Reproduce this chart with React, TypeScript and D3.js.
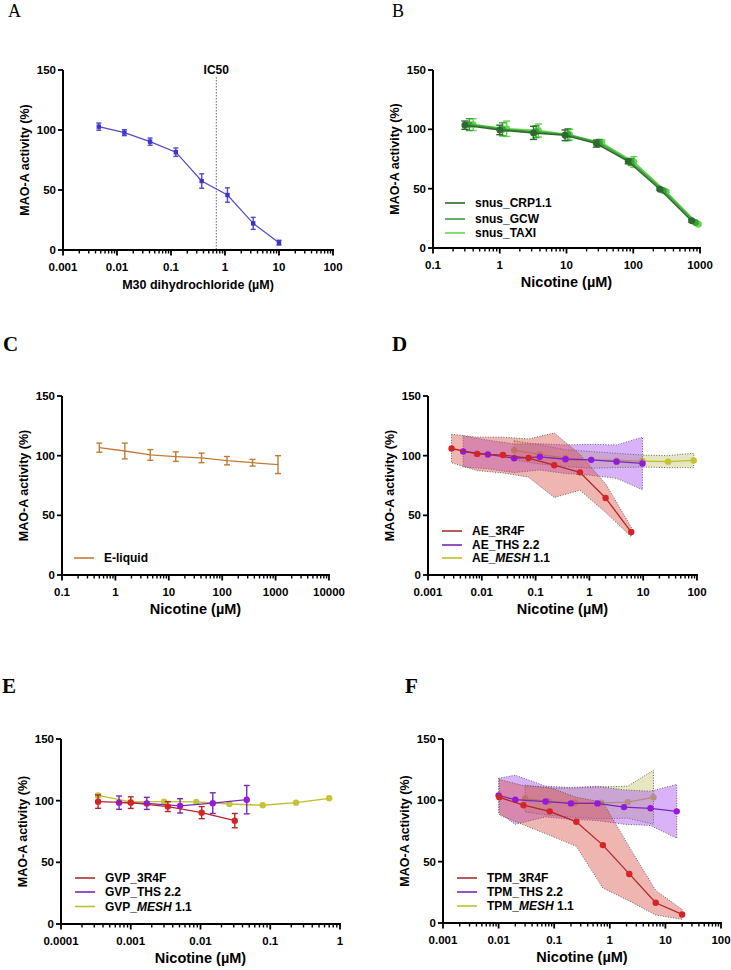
import React from "react";
import * as d3 from "d3";

const SANS = "'Liberation Sans', Arial, sans-serif";
const SERIF = "'Liberation Serif', 'Times New Roman', serif";

// ---------- Panel A ----------
const aDose = [0.0046, 0.0137, 0.041, 0.123, 0.37, 1.11, 3.33, 10];
const aMean = [102.8, 97.8, 90.3, 81.5, 57.5, 45.8, 22.2, 6.1];
const aSd = [3, 2.5, 3, 3.5, 6, 6, 5, 2];
const aIC50 = 0.69;
const aXTicks = ["0.001", "0.01", "0.1", "1", "10", "100"];

// ---------- Panel B ----------
const bDoseCRP = [0.3, 1.0, 3.2, 9.5, 28, 84, 250, 750];
const bMeanCRP = [103.5, 99.5, 97, 95, 88, 73, 49.5, 23];
const bSdCRP = [3.5, 4, 5.5, 4.5, 3, 2, 1, 1];
const bDoseGCW = [0.35, 1.1, 3.5, 10.5, 31, 93, 280, 850];
const bMeanGCW = [104, 100, 98, 95.5, 88.5, 72.5, 48.5, 21.5];
const bSdGCW = [5, 5.5, 5, 5, 3, 3, 1, 1];
const bDoseTAXI = [0.4, 1.27, 3.8, 11.2, 34, 102, 310, 940];
const bMeanTAXI = [104, 100.5, 99, 95.5, 88.5, 72.5, 47.5, 20];
const bSdTAXI = [5, 6.5, 5.5, 4.5, 2.5, 4.5, 1, 1];
const bXTicks = ["0.1", "1", "10", "100", "1000"];

// ---------- Panel C ----------
const cDose = [0.5, 1.5, 4.5, 13.5, 41, 123, 370, 1110];
const cMean = [106.7, 103.9, 100.6, 99.2, 98.1, 95.8, 94.1, 92.5];
const cSd = [3.8, 6.6, 4.5, 4, 4, 3.5, 2.8, 7.5];
const cXTicks = ["0.1", "1", "10", "100", "1000", "10000"];

// ---------- Panel D ----------
const dDose3R4F = [0.00274, 0.0082, 0.0247, 0.074, 0.222, 0.667, 2, 6];
const dMean3R4F = [106, 101.5, 100.5, 98, 92, 86, 64.5, 36];
const dSd3R4F = [12, 14, 15, 16, 27, 15, 12, 4];
const dDoseTHS = [0.0045, 0.013, 0.04, 0.12, 0.36, 1.08, 3.2, 9.7];
const dMeanTHS = [103.5, 101, 97.8, 99, 97, 96.5, 95, 93.5];
const dSdTHS = [13, 12, 12, 11, 12, 13, 14, 22];
const dDoseMESH = [0.04, 0.12, 0.36, 1.08, 3.2, 9.7, 29, 87];
const dMeanMESH = [104.5, 101, 98, 96.5, 96, 95.5, 95, 96];
const dSdMESH = [8, 8, 7, 7, 6, 5, 5, 6];
const dXTicks = ["0.001", "0.01", "0.1", "1", "10", "100"];

// ---------- Panel E ----------
const eDose3R4F = [0.00034, 0.001, 0.0034, 0.0104, 0.031];
const eMean3R4F = [99.2, 98.4, 95.2, 90.3, 83.8];
const eSd3R4F = [5.4, 4.7, 4, 4.9, 5.8];
const eDoseTHS = [0.00068, 0.0017, 0.0051, 0.015, 0.046];
const eMeanTHS = [98.4, 97.8, 95.8, 98, 100.8];
const eSdTHS = [5.4, 4.9, 5.8, 8.4, 11.5];
const eDoseMESH = [0.00034, 0.001, 0.003, 0.0087, 0.026, 0.078, 0.234, 0.7];
const eMeanMESH = [104.2, 99, 99.2, 99, 97.3, 96.3, 98.4, 101.9];
const eSdMESH = [1.5, 0, 0, 0, 0, 0, 0, 0];
const eXTicks = ["0.0001", "0.001", "0.01", "0.1", "1"];

// ---------- Panel F ----------
const fDose3R4F = [0.0103, 0.028, 0.083, 0.25, 0.75, 2.24, 6.7, 20];
const fMean3R4F = [102.5, 96, 91, 82.5, 63.5, 40, 16.5, 7];
const fSd3R4F = [14.5, 16, 19.5, 20, 35, 22, 10, 4];
const fDoseTHS = [0.01, 0.02, 0.07, 0.2, 0.6, 1.8, 5.4, 16];
const fMeanTHS = [104, 100.5, 99, 97.5, 97.5, 94.5, 93.5, 91];
const fSdTHS = [14, 20, 12.5, 13, 14, 14, 14, 22];
const fDoseMESH = [0.03, 0.08, 0.24, 0.7, 2.1, 6.1];
const fMeanMESH = [101.5, 99, 98, 98, 98.5, 102.5];
const fSdMESH = [11, 11, 12, 13, 13, 22];
const fXTicks = ["0.001", "0.01", "0.1", "1", "10", "100"];

const yTicks = [0, 50, 100, 150];

const RED_L = "#b3262a", RED_P = "#d42424", RED_F = "#d6453c";
const PUR_L = "#7a28b8", PUR_P = "#9418e0", PUR_F = "#a040f0";
const OLV_L = "#bcbf2c", OLV_P = "#c3c436", OLV_F = "#b8b84a";

type S = {
  dose: number[]; mean: number[]; sd: number[];
  line: string; point: string; marker: "circle" | "square" | "none";
  r?: number; cap?: number; errors?: boolean; band?: string; bandOp?: number; lw?: number;
};
type Leg = { pre: string; ital?: string; post?: string; color: string };

function mk(dose: number[], mean: number[], sd: number[]) {
  return dose.map((d, i) => ({ d, m: mean[i], s: sd[i] }));
}

function Panel(p: any) {
  const x = d3.scaleLog().domain(p.domain).range([p.x0, p.x1]);
  const y = d3.scaleLinear().domain([0, 150]).range([p.yb, p.yt]);
  const lo = Math.round(Math.log10(p.domain[0]));
  const hi = Math.round(Math.log10(p.domain[1]));
  const minor: number[] = [];
  for (let k = lo; k < hi; k++) for (let m = 2; m <= 9; m++) minor.push(m * Math.pow(10, k));
  const lineGen = d3.line<any>().x((q) => x(q.d)).y((q) => y(q.m));
  const areaGen = d3.area<any>().x((q) => x(q.d)).y0((q) => y(Math.max(0, q.m - q.s))).y1((q) => y(q.m + q.s));
  const series: S[] = p.series;

  const drawBand = (s: S, i: number) =>
    s.band ? (
      <path key={"b" + i} d={areaGen(mk(s.dose, s.mean, s.sd)) || ""} fill={s.band} fillOpacity={s.bandOp ?? 0.4}
        stroke="#555" strokeWidth={0.9} strokeDasharray="1,1.6" />
    ) : null;
  const drawMarks = (s: S, i: number) => {
    const pts = mk(s.dose, s.mean, s.sd);
    const cap = s.cap ?? 3;
    return (
      <g key={"m" + i}>
        <path d={lineGen(pts) || ""} fill="none" stroke={s.line} strokeWidth={s.lw ?? 1.3} />
        {s.errors && pts.map((q, j) => q.s > 0 ? (
          <g key={j} stroke={s.line} strokeWidth={1.4}>
            <line x1={x(q.d)} x2={x(q.d)} y1={y(q.m - q.s)} y2={y(q.m + q.s)} />
            <line x1={x(q.d) - cap} x2={x(q.d) + cap} y1={y(q.m - q.s)} y2={y(q.m - q.s)} />
            <line x1={x(q.d) - cap} x2={x(q.d) + cap} y1={y(q.m + q.s)} y2={y(q.m + q.s)} />
          </g>) : null)}
        {pts.map((q, j) => s.marker === "circle" ? (
          <circle key={"c" + j} cx={x(q.d)} cy={y(q.m)} r={s.r ?? 3.2} fill={s.point} />
        ) : s.marker === "square" ? (
          <rect key={"c" + j} x={x(q.d) - 2.2} y={y(q.m) - 2.2} width={4.4} height={4.4} fill={s.point} />
        ) : null)}
      </g>
    );
  };

  const fullFirst = p.fullFirst;
  return (
    <g>
      <text x={p.tx} y={p.ty} fontFamily={SERIF} fontSize={p.tBold ? 21 : 18} fontWeight={p.tBold ? "bold" : "normal"}>{p.title}</text>
      {fullFirst ? (
        <g>
          {drawBand(series[0], 0)}
          {drawMarks(series[0], 0)}
          {series.slice(1).map((s, i) => drawBand(s, i + 1))}
          {series.slice(1).map((s, i) => drawMarks(s, i + 1))}
        </g>
      ) : (
        <g>
          {series.map(drawBand)}
          {series.map(drawMarks)}
        </g>
      )}
      {p.ic50 !== undefined && (
        <g>
          <line x1={x(p.ic50)} x2={x(p.ic50)} y1={p.yt + 7} y2={p.yb} stroke="#555" strokeWidth={0.9} strokeDasharray="1.5,1.5" />
          <text x={x(p.ic50)} y={p.yt + 4} textAnchor="middle" fontFamily={SANS} fontSize={12} fontWeight="bold">IC50</text>
        </g>
      )}
      {/* y axis */}
      <line x1={p.x0} x2={p.x0} y1={p.yb + 1} y2={p.yt} stroke="#000" strokeWidth={2} />
      {yTicks.map((t) => (
        <g key={t}>
          <line x1={p.x0 - 5} x2={p.x0} y1={y(t)} y2={y(t)} stroke="#000" strokeWidth={1.8} />
          <text x={p.x0 - 7} y={y(t) + 4} textAnchor="end" fontFamily={SANS} fontSize={11.5} fontWeight="bold">{t}</text>
        </g>
      ))}
      {/* x axis */}
      <line x1={p.x0 - 1} x2={p.x1 + 1} y1={p.yb} y2={p.yb} stroke="#000" strokeWidth={2} />
      {minor.map((t, i) => (
        <line key={"mn" + i} x1={x(t)} x2={x(t)} y1={p.yb} y2={p.yb + 3.5} stroke="#000" strokeWidth={1.4} />
      ))}
      {p.xTicks.map((t: string) => (
        <g key={t}>
          <line x1={x(+t)} x2={x(+t)} y1={p.yb} y2={p.yb + 5.5} stroke="#000" strokeWidth={1.8} />
          <text x={x(+t)} y={p.yb + 21} textAnchor="middle" fontFamily={SANS} fontSize={11.5} fontWeight="bold">{t}</text>
        </g>
      ))}
      <text transform={`translate(${p.x0 - 38},${(p.yt + p.yb) / 2}) rotate(-90)`} textAnchor="middle" dominantBaseline="central"
        fontFamily={SANS} fontSize={12.5} fontWeight="bold">MAO-A activity (%)</text>
      <text x={(p.x0 + p.x1) / 2} y={p.yb + 39} textAnchor="middle" fontFamily={SANS} fontSize={p.xlSize} fontWeight="bold">{p.xLabel}</text>
      {p.legend && p.legend.map((l: Leg, i: number) => (
        <g key={"lg" + i}>
          <line x1={p.lx} x2={p.lx + 20} y1={p.ly[i]} y2={p.ly[i]} stroke={l.color} strokeWidth={1.6} />
          <text x={p.lx + 30} y={p.ly[i] + 4} fontFamily={SANS} fontSize={12} fontWeight="bold">
            {l.pre}{l.ital && <tspan fontStyle="italic">{l.ital}</tspan>}{l.post}
          </text>
        </g>
      ))}
    </g>
  );
}

export default function App() {
  const panels = [
    {
      title: "A", tx: 8, ty: 17, tBold: false, domain: [0.001, 100], x0: 63, x1: 333, yb: 250, yt: 70,
      xTicks: aXTicks, xLabel: "M30 dihydrochloride (\u00b5M)", xlSize: 12.5, ic50: aIC50,
      series: [{ dose: aDose, mean: aMean, sd: aSd, line: "#5148cf", point: "#3d35c8", marker: "square", errors: true, cap: 2.5, lw: 1.2 }],
    },
    {
      title: "B", tx: 392, ty: 17, tBold: false, domain: [0.1, 1000], x0: 433, x1: 700, yb: 248, yt: 70,
      xTicks: bXTicks, xLabel: "Nicotine (\u00b5M)", xlSize: 14.5,
      series: [
        { dose: bDoseTAXI, mean: bMeanTAXI, sd: bSdTAXI, line: "#5fd84a", point: "#5fd84a", marker: "circle", errors: true, cap: 3.5, r: 3.4, lw: 1.6 },
        { dose: bDoseGCW, mean: bMeanGCW, sd: bSdGCW, line: "#3e9e3e", point: "#3e9e3e", marker: "circle", errors: true, cap: 3.5, r: 3.4, lw: 1.6 },
        { dose: bDoseCRP, mean: bMeanCRP, sd: bSdCRP, line: "#2d6a2d", point: "#2d6a2d", marker: "circle", errors: true, cap: 3.5, r: 3.4, lw: 1.6 },
      ],
      legend: [
        { pre: "snus_CRP1.1", color: "#2d6a2d" },
        { pre: "snus_GCW", color: "#3e9e3e" },
        { pre: "snus_TAXI", color: "#5fd84a" },
      ],
      lx: 445, ly: [203, 219, 233],
    },
    {
      title: "C", tx: 3, ty: 351, tBold: true, domain: [0.1, 10000], x0: 62, x1: 329, yb: 575, yt: 396,
      xTicks: cXTicks, xLabel: "Nicotine (\u00b5M)", xlSize: 14.5,
      series: [{ dose: cDose, mean: cMean, sd: cSd, line: "#c27b35", point: "#c27b35", marker: "none", errors: true, cap: 3, lw: 1.3 }],
      legend: [{ pre: "E-liquid", color: "#c27b35" }], lx: 74, ly: [558],
    },
    {
      title: "D", tx: 392, ty: 351, tBold: true, domain: [0.001, 100], x0: 428, x1: 697, yb: 575, yt: 396,
      xTicks: dXTicks, xLabel: "Nicotine (\u00b5M)", xlSize: 14.5, fullFirst: true,
      series: [
        { dose: dDoseMESH, mean: dMeanMESH, sd: dSdMESH, line: OLV_L, point: OLV_P, marker: "circle", band: OLV_F, bandOp: 0.35 },
        { dose: dDoseTHS, mean: dMeanTHS, sd: dSdTHS, line: PUR_L, point: PUR_P, marker: "circle", band: PUR_F, bandOp: 0.4 },
        { dose: dDose3R4F, mean: dMean3R4F, sd: dSd3R4F, line: RED_L, point: RED_P, marker: "circle", band: RED_F, bandOp: 0.4 },
      ],
      legend: [
        { pre: "AE_3R4F", color: "#a83232" },
        { pre: "AE_THS 2.2", color: PUR_L },
        { pre: "AE_", ital: "MESH", post: " 1.1", color: OLV_L },
      ],
      lx: 442, ly: [531, 545, 558],
    },
    {
      title: "E", tx: 2, ty: 693, tBold: true, domain: [0.0001, 1], x0: 61, x1: 340, yb: 924, yt: 739,
      xTicks: eXTicks, xLabel: "Nicotine (\u00b5M)", xlSize: 14.5,
      series: [
        { dose: eDoseMESH, mean: eMeanMESH, sd: eSdMESH, line: OLV_L, point: OLV_P, marker: "circle", errors: true, cap: 3 },
        { dose: eDoseTHS, mean: eMeanTHS, sd: eSdTHS, line: PUR_L, point: PUR_P, marker: "circle", errors: true, cap: 3 },
        { dose: eDose3R4F, mean: eMean3R4F, sd: eSd3R4F, line: RED_L, point: RED_P, marker: "circle", errors: true, cap: 3 },
      ],
      legend: [
        { pre: "GVP_3R4F", color: "#a83232" },
        { pre: "GVP_THS 2.2", color: PUR_L },
        { pre: "GVP_", ital: "MESH", post: " 1.1", color: OLV_L },
      ],
      lx: 75, ly: [878, 892, 906.5],
    },
    {
      title: "F", tx: 405, ty: 693, tBold: true, domain: [0.001, 100], x0: 443, x1: 721, yb: 923, yt: 739,
      xTicks: fXTicks, xLabel: "Nicotine (\u00b5M)", xlSize: 14.5, fullFirst: true,
      series: [
        { dose: fDoseMESH, mean: fMeanMESH, sd: fSdMESH, line: OLV_L, point: OLV_P, marker: "circle", band: OLV_F, bandOp: 0.35 },
        { dose: fDoseTHS, mean: fMeanTHS, sd: fSdTHS, line: PUR_L, point: PUR_P, marker: "circle", band: PUR_F, bandOp: 0.4 },
        { dose: fDose3R4F, mean: fMean3R4F, sd: fSd3R4F, line: RED_L, point: RED_P, marker: "circle", band: RED_F, bandOp: 0.4 },
      ],
      legend: [
        { pre: "TPM_3R4F", color: "#a83232" },
        { pre: "TPM_THS 2.2", color: PUR_L },
        { pre: "TPM_", ital: "MESH", post: " 1.1", color: OLV_L },
      ],
      lx: 457, ly: [878, 892, 906],
    },
  ];
  return (
    <svg width={731} height={970} style={{ position: "absolute", left: 0, top: 0, background: "#fff" }}>
      <rect width={731} height={970} fill="#fff" />
      {panels.map((p, i) => <Panel key={i} {...p} />)}
    </svg>
  );
}
